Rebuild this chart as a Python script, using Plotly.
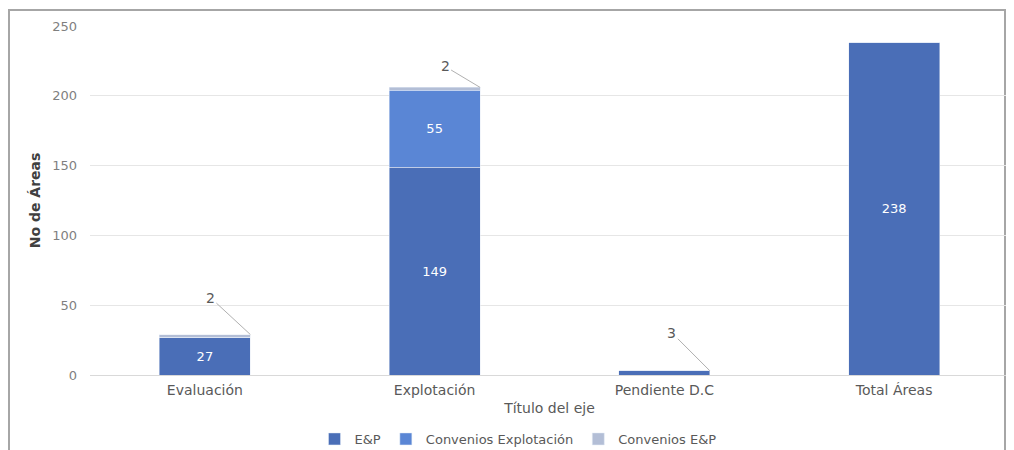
import plotly.graph_objects as go

# data
categorias = ["Evaluación", "Explotación", "Pendiente D.C", "Total Áreas"]
ep = [27, 149, 3, 238]
conv_explotacion = [0, 55, 0, 0]
conv_ep = [2, 2, 0, 0]
yticks = [0, 50, 100, 150, 200, 250]

# small values get a callout label instead of an inside label
MIN_INSIDE = 10
# pixel offsets for the callout texts (ax, ay)
callout_off = {"Evaluación": (-40, -37), "Explotación": (-35, -21), "Pendiente D.C": (-38, -38)}

gris = "#595959"
fnt = "DejaVu Sans"

def inside_text(vals):
    return [str(v) if v >= MIN_INSIDE else "" for v in vals]

fig = go.Figure()
fig.add_trace(go.Bar(x=categorias, y=ep, name="E&P", marker_color="#4A6EB7",
                     text=inside_text(ep), textposition="inside", insidetextanchor="middle",
                     textfont=dict(color="white", size=13, family=fnt)))
fig.add_trace(go.Bar(x=categorias, y=conv_explotacion, name="Convenios Explotación",
                     marker_color="#5A86D5",
                     text=inside_text(conv_explotacion), textposition="inside",
                     insidetextanchor="middle",
                     textfont=dict(color="white", size=13, family=fnt)))
fig.add_trace(go.Bar(x=categorias, y=conv_ep, name="Convenios E&P", marker_color="#B3BED6",
                     text=inside_text(conv_ep), textposition="inside"))

bargap = 0.604
half = (1 - bargap) / 2

# callouts for small segments (value shown at top right corner of the stack)
annots = []
for i, c in enumerate(categorias):
    total = ep[i] + conv_explotacion[i] + conv_ep[i]
    small = [v for v in (conv_ep[i], conv_explotacion[i], ep[i]) if 0 < v < MIN_INSIDE]
    if not small:
        continue
    ax, ay = callout_off[c]
    annots.append(dict(x=i + half, y=total, xref="x", yref="y", text=str(small[0]),
                       showarrow=True, arrowhead=0, arrowwidth=1, arrowcolor="#b0b0b0",
                       ax=ax, ay=ay, standoff=0,
                       font=dict(size=14, color=gris, family=fnt)))

# page body has an 8px margin, so the figure starts at (8, 8) on the page
OFF = 8
W, H = 1014 - OFF, 450 - OFF
# plot area in page pixels
PL, PR, PT, PB = 90, 1009, 26, 375
L, R, T, B = PL - OFF, W - (PR - OFF), PT - OFF, H - (PB - OFF)
pw, ph = PR - PL, PB - PT
def px(x): return (x - PL) / pw
def py(y): return (PB - y) / ph

fig.update_layout(
    width=W, height=H, barmode="stack", bargap=bargap,
    margin=dict(l=L, r=R, t=T, b=B, autoexpand=False),
    paper_bgcolor="white", plot_bgcolor="white",
    font=dict(family=fnt, size=13, color=gris),
    showlegend=True,
    legend=dict(orientation="h", x=px(518), xanchor="center", y=py(439), yanchor="middle",
                font=dict(size=13, color=gris), itemwidth=30, traceorder="normal"),
    xaxis=dict(showgrid=False, showline=True, linecolor="#d9d9d9", linewidth=1,
               ticks="", tickfont=dict(size=14, color=gris), automargin=False,
               ticklabelstandoff=2,
               title=dict(text="Título del eje", font=dict(size=14, color=gris), standoff=6),
               range=[-0.5, 3.5]),
    yaxis=dict(range=[0, 250], tickvals=yticks, showgrid=True, gridcolor="#e6e6e6",
               zeroline=False, tickfont=dict(size=13, color="#7f7f7f"), ticklabelstandoff=12,
               automargin=False,
               title=dict(text="<b>No de Áreas</b>", font=dict(size=14, color="#404040"),
                          standoff=8)),
    annotations=annots,
    shapes=[dict(type="rect", xref="paper", yref="paper",
                 x0=px(9), x1=px(1005), y0=py(470), y1=py(10),
                 line=dict(color="#a6a6a6", width=2), layer="below")],
)

fig.write_html("out.html")
